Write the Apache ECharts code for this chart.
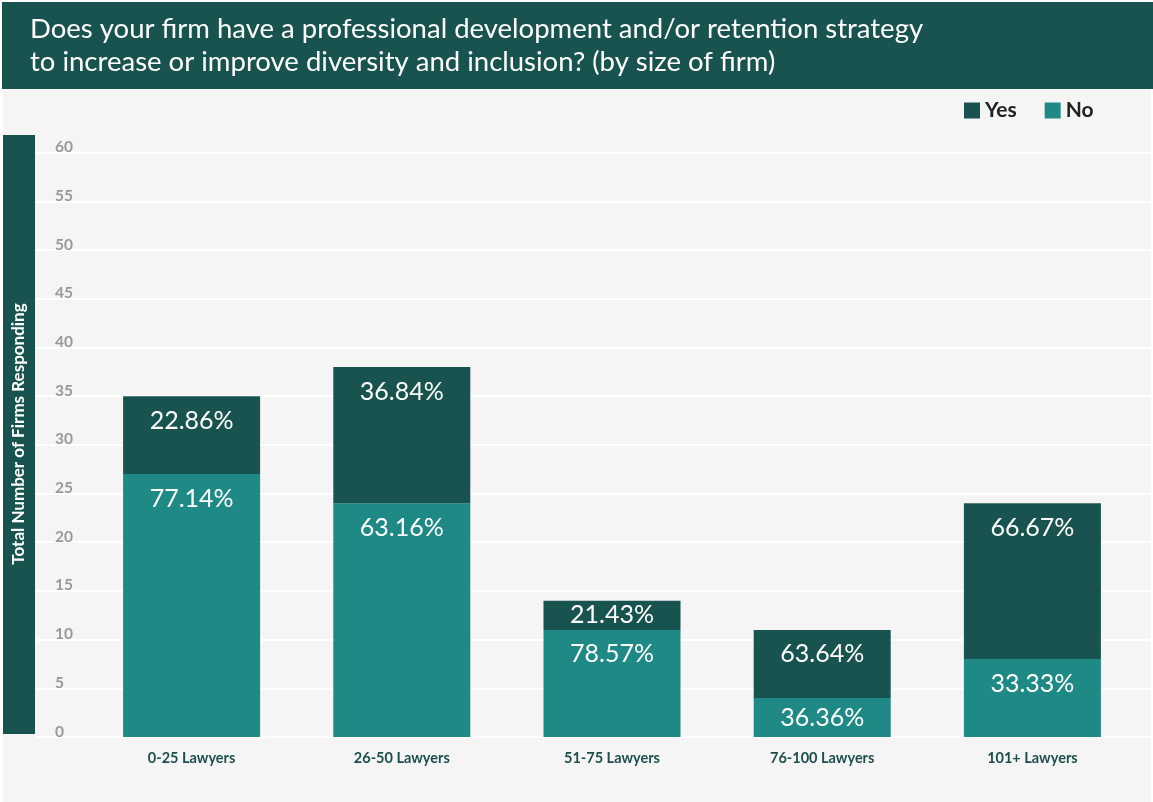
<!DOCTYPE html>
<html>
<head>
<meta charset="utf-8">
<title>Diversity and inclusion strategy by firm size</title>
<script src="https://cdn.jsdelivr.net/npm/echarts@6/dist/echarts.min.js"></script>
<style>
  html, body { margin: 0; padding: 0; background: #ffffff; }
  #chart { width: 1153px; height: 802px; }
</style>
</head>
<body>
<div id="chart"></div>
<script>
// Firm size groups and number of firms answering each way
const categories = ['0-25 Lawyers', '26-50 Lawyers', '51-75 Lawyers', '76-100 Lawyers', '101+ Lawyers'];
const yesCounts = [8, 14, 3, 7, 16];
const noCounts = [27, 24, 11, 4, 8];
const yTicks = { min: 0, max: 60, interval: 5 };

const DARK = '#18534f';
const TEAL = '#1e8985';
const PANEL = '#f5f5f5';

const totals = categories.map((_, i) => yesCounts[i] + noCounts[i]);
const pct = (v, i) => (v / totals[i] * 100).toFixed(2) + '%';

// Short segments get their share centred, taller ones near the top edge
const segData = counts => counts.map(v => ({
  value: v,
  label: v < 5 ? { position: 'inside' } : {}
}));

const chart = echarts.init(document.getElementById('chart'));

const segLabel = {
  show: true,
  position: 'insideTop',
  distance: 12,
  color: '#ffffff',
  fontSize: 25,
  fontFamily: 'Lato',
  fontWeight: 'normal',
  formatter: p => pct(p.value, p.dataIndex)
};

chart.setOption({
  backgroundColor: '#ffffff',
  animation: false,
  graphic: [
    { type: 'rect', z: -10, shape: { x: 3, y: 2, width: 1148, height: 800 }, style: { fill: PANEL } },
    { type: 'rect', z: -9, shape: { x: 2, y: 2, width: 1151, height: 87 }, style: { fill: DARK } },
    { type: 'rect', z: -9, shape: { x: 3, y: 135, width: 32, height: 599 }, style: { fill: DARK } },
    {
      type: 'text', z: -8, x: 19, y: 434, rotation: Math.PI / 2,
      style: {
        text: 'Total Number of Firms Responding',
        fill: '#ffffff', fontSize: 17, fontWeight: 'bold', fontFamily: 'Lato',
        align: 'center', verticalAlign: 'middle'
      }
    }
  ],
  title: {
    text: 'Does your firm have a professional development and/or retention strategy\nto increase or improve diversity and inclusion? (by size of firm)',
    left: 25,
    top: 8,
    textStyle: {
      color: '#ffffff',
      fontSize: 27.5,
      fontWeight: 'normal',
      fontFamily: 'Lato',
      lineHeight: 33
    }
  },
  legend: {
    data: ['Yes', 'No'],
    left: 959,
    top: 95,
    icon: 'rect',
    itemWidth: 16,
    itemHeight: 16,
    itemGap: 28,
    textStyle: { color: '#222222', fontSize: 21, fontWeight: 'bold', fontFamily: 'Lato' }
  },
  grid: [
    { left: 36, right: 2, top: 152.7, bottom: 65 },
    { left: 86.5, right: 15.5, top: 152.7, bottom: 65 }
  ],
  xAxis: [
    { type: 'value', gridIndex: 0, show: false, min: 0, max: 1 },
    {
      type: 'category',
      gridIndex: 1,
      data: categories,
      axisLine: { show: false },
      axisTick: { show: false },
      axisLabel: { margin: 14, color: '#1c4f4c', fontSize: 14.5, fontWeight: 'bold', fontFamily: 'Lato' }
    }
  ],
  yAxis: [
    {
      type: 'value',
      gridIndex: 0,
      min: yTicks.min,
      max: yTicks.max,
      interval: yTicks.interval,
      axisLine: { show: false },
      axisTick: { show: false },
      axisLabel: {
        inside: true,
        margin: 19,
        align: 'left',
        verticalAlign: 'bottom',
        lineHeight: 11,
        color: '#999999',
        fontSize: 15.5,
        fontWeight: 'bold',
        fontFamily: 'Lato'
      },
      splitLine: { show: true, lineStyle: { color: '#ffffff', width: 2 } }
    },
    { type: 'value', gridIndex: 1, min: yTicks.min, max: yTicks.max, show: false, splitLine: { show: false } }
  ],
  series: [
    {
      name: 'No',
      type: 'bar',
      stack: 'firms',
      xAxisIndex: 1,
      yAxisIndex: 1,
      barWidth: 137,
      itemStyle: { color: TEAL },
      label: segLabel,
      data: segData(noCounts)
    },
    {
      name: 'Yes',
      type: 'bar',
      stack: 'firms',
      xAxisIndex: 1,
      yAxisIndex: 1,
      barWidth: 137,
      itemStyle: { color: DARK },
      label: segLabel,
      data: segData(yesCounts)
    }
  ]
});
</script>
</body>
</html>
